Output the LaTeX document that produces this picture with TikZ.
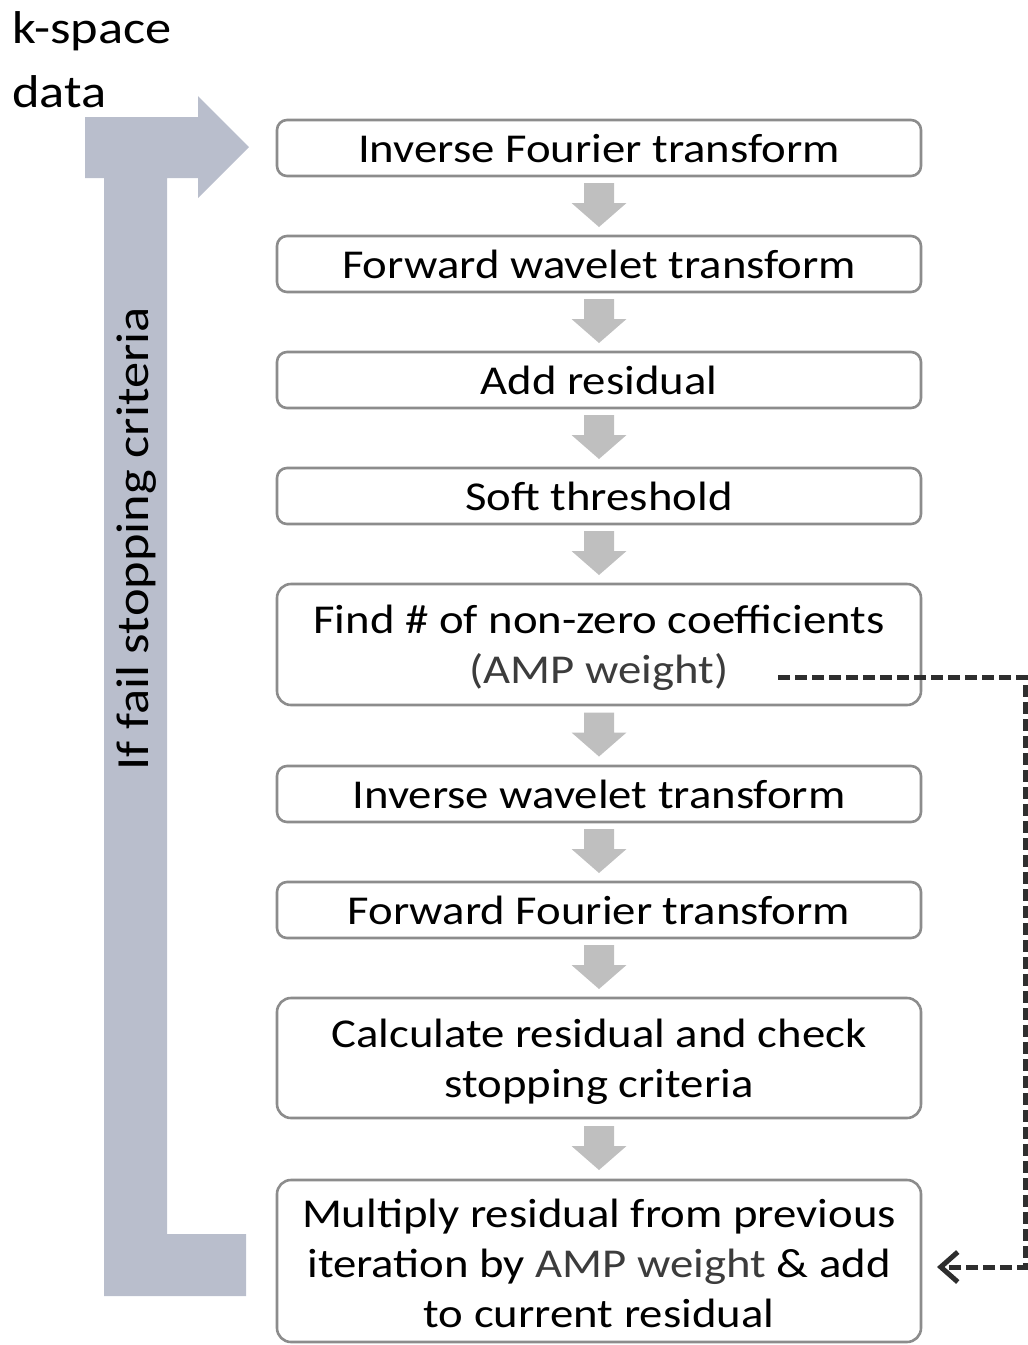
\documentclass[tikz,border=0pt]{standalone}
\usepackage{fontspec}
\setmainfont{Carlito}[FakeStretch=1.14]
\usetikzlibrary{arrows.meta,calc}
\definecolor{bigarrow}{HTML}{B9BECC}
\definecolor{smallarrow}{HTML}{BFBFBF}
\definecolor{boxline}{HTML}{8C8C8C}
\definecolor{ampgray}{HTML}{3C3C3C}
\definecolor{dashgray}{HTML}{2E2E2E}
\tikzset{
  box/.style={draw=boxline, line width=2.6pt, rounded corners=10pt, minimum width=644pt,
    inner sep=0pt, align=center, font=\fontsize{41}{50}\selectfont},
  lbl/.style={inner sep=0pt, font=\fontsize{41}{50}\selectfont},
  feedback/.style={draw=dashgray, line width=5pt, dash pattern=on 12pt off 5pt,
    -{Straight Barb[length=17pt,width=30pt,line width=5pt]}},
  pics/darrow/.style={code={\fill[smallarrow] (-15,-23) -- (15,-23) -- (15,-3) -- (27.5,-3) -- (0,21) -- (-27.5,-3) -- (-15,-3) -- cycle;}}
}
\begin{document}
\begin{tikzpicture}[x=1pt,y=-1pt]
\useasboundingbox (0,0) rectangle (1028,1345);
% big feedback arrow
\fill[bigarrow] (85,117) -- (198,117) -- (198,96) -- (249,147) -- (198,198) -- (198,178)
  -- (167,178) -- (167,1234) -- (246,1234) -- (246,1296) -- (104,1296) -- (104,178)
  -- (85,178) -- cycle;
\node[lbl, rotate=90, font=\fontsize{46}{50}\selectfont] (loop) at (136,539) {If fail stopping criteria};
\node[lbl, anchor=north west, align=left, font=\fontsize{46}{64}\selectfont] (kspace) at (12,11) {k-space\\data};
% boxes
\node[box, minimum height=56pt] (b1) at (599,148) {\rule{0pt}{30pt}Inverse Fourier transform};
\node[box, minimum height=56pt] (b2) at (599,264) {\rule{0pt}{30pt}Forward wavelet transform};
\node[box, minimum height=56pt] (b3) at (599,380) {\rule{0pt}{30pt}Add residual};
\node[box, minimum height=56pt] (b4) at (599,496) {\rule{0pt}{30pt}Soft threshold};
\node[box, minimum height=121pt, rounded corners=14pt] (b5) at (599,644.5) {\rule{0pt}{36pt}Find \# of non-zero coefficients\\{\color{ampgray}(AMP weight)}};
\node[box, minimum height=56pt] (b6) at (599,794) {\rule{0pt}{30pt}Inverse wavelet transform};
\node[box, minimum height=56pt] (b7) at (599,910) {\rule{0pt}{30pt}Forward Fourier transform};
\node[box, minimum height=120pt, rounded corners=14pt] (b8) at (599,1058) {\rule{0pt}{36pt}Calculate residual and check\\stopping criteria};
\node[box, minimum height=162pt, rounded corners=14pt] (b9) at (599,1261) {\rule{0pt}{34pt}Multiply residual from previous\\iteration by {\color{ampgray}AMP weight} \& add\\to current residual};
% small arrows
\foreach \a/\b in {b1/b2,b2/b3,b3/b4,b4/b5,b5/b6,b6/b7,b7/b8,b8/b9}{
  \path ($(\a.south)!0.5!(\b.north)$) pic {darrow};
}
% dashed feedback
\coordinate (ds) at (778,677);
\coordinate (dc) at (1025,1267);
\coordinate (dt) at (937,1267);
\draw[feedback] (ds) -| (dc) -- (dt);
\end{tikzpicture}
\end{document}
